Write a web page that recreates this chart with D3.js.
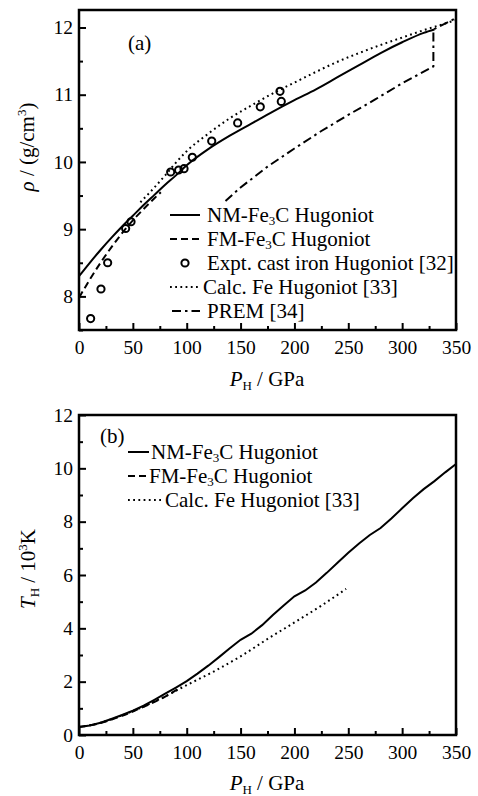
<!DOCTYPE html>
<html>
<head>
<meta charset="utf-8">
<script src="https://cdn.jsdelivr.net/npm/d3@7"></script>
<style>
  body { margin: 0; background: #fff; }
  text { font-family: "Liberation Serif", "Times New Roman", Times, "DejaVu Serif", serif; fill: #000; }
</style>
</head>
<body>
<div id="chart"></div>
<script>
// ---- panel (a): density along the Hugoniot ----
const nmP = [0, 10, 20, 30, 40, 50, 60, 70, 80, 90, 100, 120, 140, 160, 180, 200, 220, 240, 260, 280, 300, 320, 330]
const nmRho = [8.30, 8.50, 8.69, 8.87, 9.04, 9.20, 9.36, 9.51, 9.66, 9.80, 9.95, 10.19, 10.39, 10.57, 10.75, 10.92, 11.08, 11.26, 11.44, 11.62, 11.78, 11.92, 11.97]

const fmP = [0, 10, 20, 30, 40, 50, 60, 70, 76]
const fmRho = [7.98, 8.25, 8.50, 8.73, 8.94, 9.13, 9.30, 9.46, 9.55]

const exptP = [10.8, 20.4, 26.6, 43.3, 48.3, 85.1, 92.5, 97.5, 105.2, 123.2, 147.3, 168.3, 186.6, 187.8]
const exptRho = [7.67, 8.11, 8.50, 9.01, 9.11, 9.85, 9.88, 9.90, 10.07, 10.31, 10.58, 10.82, 11.05, 10.90]

const feP = [57, 70, 80, 90, 100, 120, 140, 160, 180, 200, 220, 240, 260, 280, 300, 320, 340, 350]
const feRho = [9.40, 9.62, 9.80, 9.99, 10.16, 10.42, 10.65, 10.84, 11.02, 11.18, 11.34, 11.49, 11.62, 11.74, 11.85, 11.96, 12.06, 12.11]

const premP = [136, 150, 175, 200, 225, 250, 275, 300, 329, 329, 350]
const premRho = [9.42, 9.62, 9.93, 10.20, 10.46, 10.70, 10.93, 11.17, 11.42, 11.97, 12.14]

// ---- panel (b): temperature along the Hugoniot ----
const nmTP = [0, 10, 20, 30, 40, 50, 60, 70, 80, 90, 100, 110, 120, 130, 140, 150, 160, 170, 180, 190, 200, 210, 220, 230, 240, 250, 260, 270, 280, 290, 300, 310, 320, 330, 340, 350]
const nmT = [0.30, 0.36, 0.46, 0.60, 0.75, 0.91, 1.10, 1.32, 1.55, 1.78, 2.02, 2.30, 2.60, 2.92, 3.25, 3.57, 3.80, 4.12, 4.50, 4.86, 5.20, 5.42, 5.72, 6.08, 6.46, 6.83, 7.18, 7.50, 7.76, 8.12, 8.50, 8.88, 9.22, 9.52, 9.85, 10.16]

const fmTP = [0, 20, 40, 60, 80, 95]
const fmT = [0.30, 0.45, 0.72, 1.06, 1.44, 1.80]

const feTP = [0, 20, 40, 60, 80, 100, 125, 150, 175, 200, 225, 248]
const feT = [0.30, 0.46, 0.74, 1.07, 1.45, 1.87, 2.38, 2.95, 3.60, 4.22, 4.85, 5.48]

const xTicks = [0, 50, 100, 150, 200, 250, 300, 350]
const rhoTicks = [8, 9, 10, 11, 12]
const tTicks = [0, 2, 4, 6, 8, 10, 12]

const width = 478
const height = 796
const left = 79
const right = 456
const serif = '"Liberation Serif", "Times New Roman", Times, serif'

const svg = d3.select('#chart')
  .append('svg')
  .attr('width', width)
  .attr('height', height)

const styles = {
  solid: null,
  dashed: '7,4',
  dotted: '1.8,3.4',
  dashdot: '9,4,2.5,4'
}

const zip = (xs, ys) => xs.map((x, i) => [x, ys[i]])

function frame(x, y, top, bottom, yMajor, yMinor) {
  const g = svg.append('g')

  g.append('g')
    .attr('transform', `translate(0, ${bottom})`)
    .call(d3.axisBottom(x).tickValues(d3.range(25, 350, 50)).tickSizeInner(-4).tickSizeOuter(0).tickFormat(''))
  g.append('g')
    .attr('transform', `translate(0, ${bottom})`)
    .call(d3.axisBottom(x).tickValues(xTicks).tickSizeInner(-7).tickSizeOuter(0).tickPadding(10).tickFormat(d3.format('d')))
  g.append('g')
    .attr('transform', `translate(${left}, 0)`)
    .call(d3.axisLeft(y).tickValues(yMinor).tickSizeInner(-4).tickSizeOuter(0).tickFormat(''))
  g.append('g')
    .attr('transform', `translate(${left}, 0)`)
    .call(d3.axisLeft(y).tickValues(yMajor).tickSizeInner(-7).tickSizeOuter(0).tickPadding(6).tickFormat(d3.format('d')))

  g.selectAll('.domain').remove()
  g.selectAll('g').attr('font-family', serif)
  g.selectAll('.tick line').attr('stroke', '#000').attr('stroke-width', 2)
  g.selectAll('.tick text')
    .attr('font-size', 19.5)
    .attr('font-family', serif)

  g.append('rect')
    .attr('x', left)
    .attr('y', top)
    .attr('width', right - left)
    .attr('height', bottom - top)
    .attr('fill', 'none')
    .attr('stroke', '#000')
    .attr('stroke-width', 2.5)
}

function drawLine(x, y, pts, dash, curve) {
  const line = d3.line()
    .x(d => x(d[0]))
    .y(d => y(d[1]))
    .curve(curve || d3.curveMonotoneX)
  svg.append('path')
    .datum(pts)
    .attr('d', line)
    .attr('fill', 'none')
    .attr('stroke', '#000')
    .attr('stroke-width', 2)
    .attr('stroke-dasharray', dash)
}

function fe3c(sel, prefix) {
  sel.append('tspan').text(prefix + '-Fe')
  sel.append('tspan').attr('font-size', 13).attr('dy', 3).text('3')
  sel.append('tspan').attr('dy', -3).text('C Hugoniot')
}

function legendLine(x1, x2, yy, dash) {
  svg.append('line')
    .attr('x1', x1).attr('x2', x2)
    .attr('y1', yy).attr('y2', yy)
    .attr('stroke', '#000')
    .attr('stroke-width', 2)
    .attr('stroke-dasharray', dash)
}

function xLabel(yy) {
  const t = svg.append('text')
    .attr('x', 267)
    .attr('y', yy)
    .attr('text-anchor', 'middle')
    .attr('font-size', 21)
  t.append('tspan').attr('font-style', 'italic').text('P')
  t.append('tspan').attr('font-size', 13).attr('dy', 4).text('H')
  t.append('tspan').attr('dy', -4).text(' / GPa')
}

// ---------- (a) ----------
const xA = d3.scaleLinear().domain([0, 350]).range([left, right])
const yA = d3.scaleLinear().domain([7.5, 12.26]).range([330, 10])

frame(xA, yA, 10, 330, rhoTicks, [7.5, 8.5, 9.5, 10.5, 11.5])

drawLine(xA, yA, zip(nmP, nmRho), styles.solid)
drawLine(xA, yA, zip(fmP, fmRho), styles.dashed)
drawLine(xA, yA, zip(feP, feRho), styles.dotted)
drawLine(xA, yA, zip(premP, premRho), styles.dashdot, d3.curveLinear)

svg.append('g')
  .selectAll('circle')
  .data(zip(exptP, exptRho))
  .enter()
  .append('circle')
  .attr('cx', d => xA(d[0]))
  .attr('cy', d => yA(d[1]))
  .attr('r', 3.6)
  .attr('fill', 'none')
  .attr('stroke', '#000')
  .attr('stroke-width', 2)

svg.append('text').attr('x', 128).attr('y', 50).attr('font-size', 21).text('(a)')

const legA = [215, 239, 263, 287, 311]
legendLine(170, 200, legA[0], styles.solid)
legendLine(170, 200, legA[1], styles.dashed)
svg.append('circle').attr('cx', 185).attr('cy', legA[2]).attr('r', 3.6)
  .attr('fill', 'none').attr('stroke', '#000').attr('stroke-width', 2)
legendLine(170, 200, legA[3], styles.dotted)
legendLine(172, 200, legA[4], styles.dashdot)

const fsA = 21
fe3c(svg.append('text').attr('x', 207).attr('y', legA[0] + 7).attr('font-size', fsA), 'NM')
fe3c(svg.append('text').attr('x', 207).attr('y', legA[1] + 7).attr('font-size', fsA), 'FM')
svg.append('text').attr('x', 207).attr('y', legA[2] + 7).attr('font-size', fsA).text('Expt. cast iron Hugoniot [32]')
svg.append('text').attr('x', 203).attr('y', legA[3] + 7).attr('font-size', fsA).text('Calc. Fe Hugoniot [33]')
svg.append('text').attr('x', 207).attr('y', legA[4] + 7).attr('font-size', fsA).text('PREM [34]')

xLabel(386)

const yLabA = svg.append('text')
  .attr('transform', 'translate(34, 147) rotate(-90)')
  .attr('text-anchor', 'middle')
  .attr('font-size', 21)
yLabA.append('tspan').attr('font-style', 'italic').text('ρ')
yLabA.append('tspan').text(' /  (g/cm')
yLabA.append('tspan').attr('font-size', 13).attr('dy', -8).text('3')
yLabA.append('tspan').attr('dy', 8).text(')')

// ---------- (b) ----------
const xB = d3.scaleLinear().domain([0, 350]).range([left, right])
const yB = d3.scaleLinear().domain([0, 12]).range([735, 415])

frame(xB, yB, 415, 735, tTicks, [1, 3, 5, 7, 9, 11])

drawLine(xB, yB, zip(feTP, feT), styles.dotted)
drawLine(xB, yB, zip(fmTP, fmT), styles.dashed)
drawLine(xB, yB, zip(nmTP, nmT), styles.solid, d3.curveLinear)

svg.append('text').attr('x', 100).attr('y', 443).attr('font-size', 21).text('(b)')

const legB = [452, 476, 500]
const fsB = 21
legendLine(128, 149, legB[0], styles.solid)
legendLine(128, 147, legB[1], styles.dashed)
legendLine(128, 161, legB[2], styles.dotted)
fe3c(svg.append('text').attr('x', 151).attr('y', legB[0] + 7).attr('font-size', fsB), 'NM')
fe3c(svg.append('text').attr('x', 149).attr('y', legB[1] + 7).attr('font-size', fsB), 'FM')
svg.append('text').attr('x', 165).attr('y', legB[2] + 7).attr('font-size', fsB).text('Calc. Fe Hugoniot [33]')

xLabel(790)

const yLabB = svg.append('text')
  .attr('transform', 'translate(35, 569) rotate(-90)')
  .attr('text-anchor', 'middle')
  .attr('font-size', 21)
yLabB.append('tspan').attr('font-style', 'italic').text('T')
yLabB.append('tspan').attr('font-size', 13).attr('dy', 4).text('H')
yLabB.append('tspan').attr('dy', -4).text(' / 10')
yLabB.append('tspan').attr('font-size', 13).attr('dy', -8).text('3')
yLabB.append('tspan').attr('dy', 8).text('K')
</script>
</body>
</html>
